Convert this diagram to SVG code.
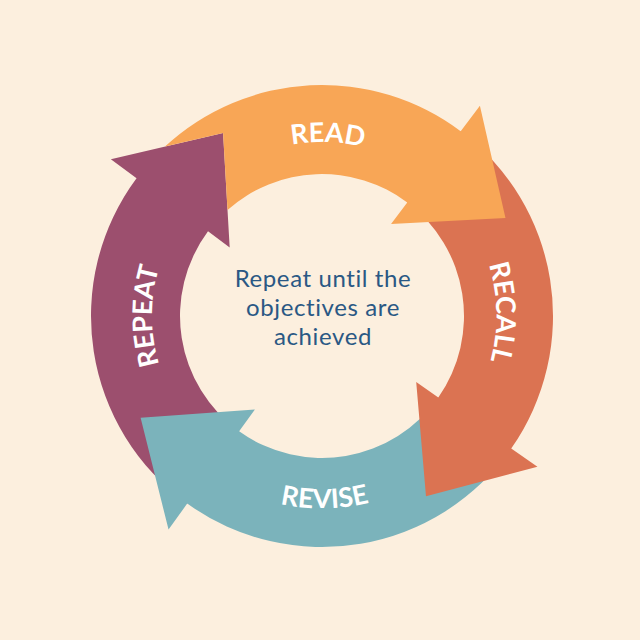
<svg xmlns="http://www.w3.org/2000/svg" width="640" height="640" viewBox="0 0 640 640">
  <style>
    .lbl { font-family: Lato, "Open Sans", "DejaVu Sans", sans-serif; font-weight: 700; font-size: 27px; fill: #ffffff; }
    .ctr { font-family: Lato, "Open Sans", "DejaVu Sans", sans-serif; font-size: 24px; letter-spacing: 0.6px; fill: #2a5884; text-anchor: middle; }
  </style>
  <defs>
    <path id="pRead" d="M 174.5 223.6 A 174 174 0 0 1 475.2 233.5"/>
    <path id="pRecall" d="M 405.9 163.5 A 173 173 0 0 1 411.2 464.6"/>
    <path id="pRevise" d="M 156.7 414.8 A 193 193 0 0 0 490.4 410.1"/>
    <path id="pRepeat" d="M 237.0 463.2 A 170 170 0 0 1 237.0 168.8"/>
  </defs>
  <rect width="640" height="640" fill="#fcefde"/>
  <g id="connectors">
    <g id="repeat">
      <path fill="#9c4f6e" d="M 187.21 503.60 A 231 231 0 0 1 136.55 178.27 L 110.86 159.19 L 223.07 133.04 L 229.68 247.43 L 208.0 231.34 A 142 142 0 0 0 239.14 431.32 Z"/>
      <text class="lbl"><textPath href="#pRepeat" startOffset="50%" text-anchor="middle">REPEAT</textPath></text>
    </g>
    <g id="revise">
      <path fill="#7bb3bb" d="M 511.23 448.50 A 231 231 0 0 1 187.21 503.60 L 168.54 529.58 L 140.6 417.8 L 254.90 409.39 L 239.14 431.32 A 142 142 0 0 0 438.33 397.45 Z"/>
      <text class="lbl"><textPath href="#pRevise" startOffset="50%" text-anchor="middle">REVISE</textPath></text>
    </g>
    <g id="recall">
      <path fill="#db7352" d="M 460.69 131.27 A 231 231 0 0 1 511.23 448.50 L 537.45 466.86 L 426.0 496.13 L 416.21 381.96 L 438.33 397.45 A 142 142 0 0 0 407.26 202.44 Z"/>
      <text class="lbl"><textPath href="#pRecall" startOffset="50%" text-anchor="middle">RECALL</textPath></text>
    </g>
    <g id="read">
      <path fill="#f8a656" d="M 164.97 146.58 A 231 231 0 0 1 460.69 131.27 L 479.91 105.68 L 505.48 218.03 L 391.05 224.03 L 407.26 202.44 A 142 142 0 0 0 227.52 210.0 L 223.07 133.04 Z"/>
      <text class="lbl"><textPath href="#pRead" startOffset="50%" text-anchor="middle">READ</textPath></text>
    </g>
  </g>
  <g id="center">
    <text class="ctr" x="323" y="287">Repeat until the</text>
    <text class="ctr" x="323" y="316">objectives are</text>
    <text class="ctr" x="323" y="345">achieved</text>
  </g>
</svg>
